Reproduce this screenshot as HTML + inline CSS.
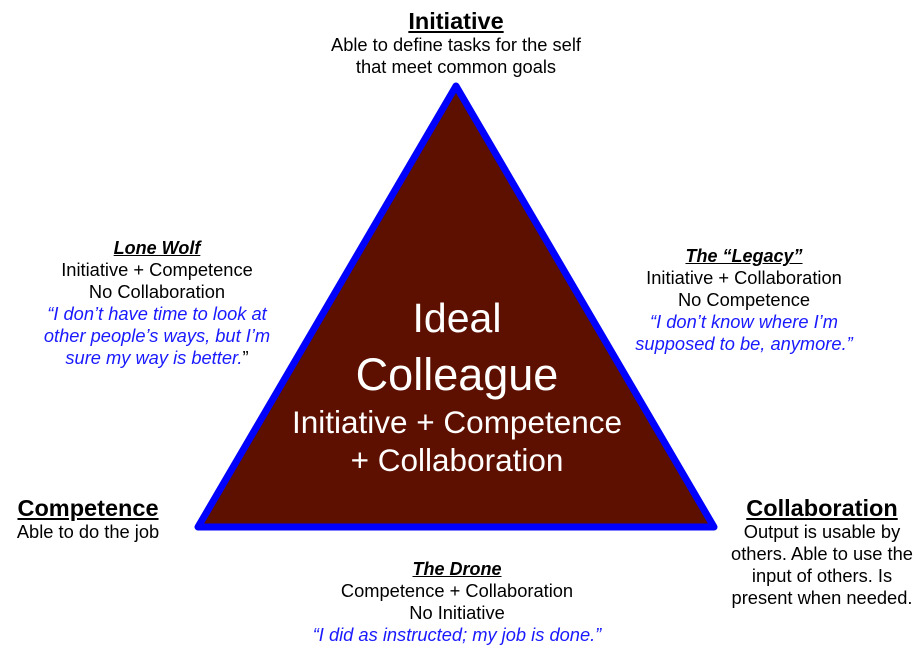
<!DOCTYPE html>
<html><head><meta charset="utf-8"><style>
body{margin:0;width:924px;height:659px;background:#fff;position:relative;overflow:hidden;font-family:"Liberation Sans",Arial,sans-serif;}
.b{position:absolute;text-align:center;color:#000;font-size:18.3px;line-height:22px;white-space:nowrap;transform:translateX(-50%);}
.t{font-weight:bold;font-size:23.5px;text-decoration:underline;line-height:26px;}
.s{font-weight:bold;font-style:italic;text-decoration:underline;font-size:18px;}
.q{color:#1a1aff;font-style:italic;}
.w{position:absolute;color:#fff;text-align:center;white-space:nowrap;transform:translateX(-50%);font-family:"Liberation Sans",sans-serif;}
</style></head><body>
<svg width="924" height="659" style="position:absolute;left:0;top:0">
<polygon points="456,86 198,527 714,527" fill="#5d1000" stroke="#0000ff" stroke-width="7" stroke-linejoin="round"/>
</svg>
<div class="b" style="left:456px;top:8px"><div class="t">Initiative</div>Able to define tasks for the self<br>that meet common goals</div>
<div class="b" style="left:157px;top:237px"><div class="s">Lone Wolf</div>Initiative + Competence<br>No Collaboration<br><span class="q">“I don’t have time to look at<br>other people’s ways, but I’m<br>sure my way is better.</span>”</div>
<div class="b" style="left:744px;top:245px"><div class="s">The “Legacy”</div>Initiative + Collaboration<br>No Competence<br><span class="q">“I don’t know where I’m<br>supposed to be, anymore.”</span></div>
<div class="b" style="left:88px;top:495px"><div class="t">Competence</div>Able to do the job</div>
<div class="b" style="left:822px;top:495px"><div class="t">Collaboration</div>Output is usable by<br>others. Able to use the<br>input of others. Is<br>present when needed.</div>
<div class="b" style="left:457px;top:558px"><div class="s">The Drone</div>Competence + Collaboration<br>No Initiative<br><span class="q">“I did as instructed; my job is done.”</span></div>
<div class="w" style="left:457px;top:295px;font-size:41px;line-height:46px">Ideal</div>
<div class="w" style="left:457px;top:352px;font-size:45px;line-height:46px">Colleague</div>
<div class="w" style="left:457px;top:405px;font-size:31.5px;line-height:34px">Initiative + Competence</div>
<div class="w" style="left:457px;top:443px;font-size:31.5px;line-height:34px">+ Collaboration</div>
</body></html>
